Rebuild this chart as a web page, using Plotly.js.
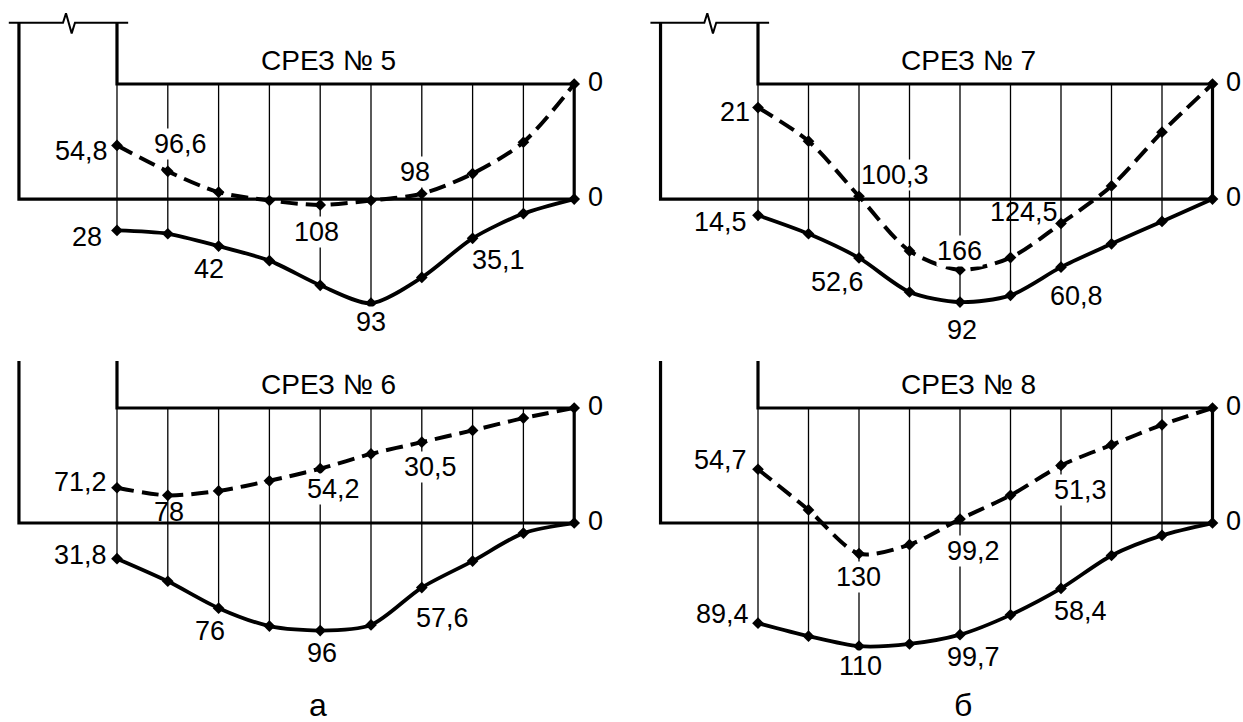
<!DOCTYPE html>
<html><head><meta charset="utf-8">
<script src="https://cdn.plot.ly/plotly-3.0.1.min.js"></script>
<style>html,body{margin:0;padding:0;background:#fff}#chart{width:1243px;height:722px}</style>
</head><body><div id="chart"></div>
<script>
// ---------- data ----------
const stations = [0, 1, 2, 3, 4, 5, 6, 7, 8, 9];
const titles = ['СРЕЗ № 5', 'СРЕЗ № 6', 'СРЕЗ № 7', 'СРЕЗ № 8'];
const subLabels = ['а', 'б'];
const zeroLabel = '0';

const dashed5 = [54.8, 78, 96.6, 104, 108, 104, 98, 80, 52, 0];
const solid5  = [28, 31, 42, 55, 77, 93, 70, 35.1, 13, 0];
const dashed6 = [71.2, 78, 74, 65, 54.2, 41, 30.5, 20, 9, 0];
const solid6  = [31.8, 52, 76, 92, 96, 91, 57.6, 34, 9, 0];
const dashed7 = [21, 51, 100.3, 149, 166, 155, 124.5, 91, 43, 0];
const solid7  = [14.5, 31, 52.6, 83, 92, 86, 60.8, 40, 20, 0];
const dashed8 = [54.7, 91, 130, 122, 99.2, 78, 51.3, 33, 15, 0];
const solid8  = [89.4, 101, 110, 108, 99.7, 82, 58.4, 29, 11, 0];

const dashedLabelIdx5 = [0, 2, 4, 6];
const solidLabelIdx5  = [0, 2, 5, 7];
const dashedLabelIdx6 = [0, 1, 4, 6];
const solidLabelIdx6  = [0, 2, 4, 6];
const dashedLabelIdx7 = [0, 2, 4, 6];
const solidLabelIdx7  = [0, 2, 4, 6];
const dashedLabelIdx8 = [0, 2, 4, 6];
const solidLabelIdx8  = [0, 2, 4, 6];

// ---------- geometry / style (not data) ----------
const GAP = 102.7;          // distance between the two zero lines (value units)
const TOP = 54.7;           // height of the break line above upper zero line
const LEFT = -1.93;         // left wall position (station units)
const BREAK_X  = [-2.13, -1.063, -1.004, -0.892, -0.827, 0.22];
const BREAK_DY = [0, 0, 8.4, -9.5, 0, 0];

// label offsets in px: [dx, dyDown, whiteBackground]
const dashedShift = [
  [[-35, 5.6, 1], [-38.6, -48, 1], [-4, 27, 1], [-7, -22, 1]],
  [[-36, -5.7, 1], [1, 16.6, 0], [13, 20, 1], [9, 25, 1]],
  [[-23.5, 4.5, 1], [36, -21, 1], [-1, -19, 1], [-37.5, -11, 0]],
  [[-37.5, -9, 1], [-1, 23.4, 1], [13.5, 32, 1], [19.5, 24.5, 1]]
];
const solidShift = [
  [[-30, 6.6, 1], [-10, 23, 1], [0, 19, 1], [26, 22, 1]],
  [[-36, -3.6, 1], [-9, 23, 1], [2, 22.5, 1], [21, 30.5, 1]],
  [[-37.5, 7, 1], [-21.5, 24, 1], [2, 28, 1], [15.5, 29, 1]],
  [[-35.5, -9, 1], [1, 20, 1], [13.5, 22, 1], [19.5, 22.6, 1]]
];

const panels = [
  {title: titles[0], d: dashed5, s: solid5, dl: dashedLabelIdx5, sl: solidLabelIdx5, ax: ''},
  {title: titles[1], d: dashed6, s: solid6, dl: dashedLabelIdx6, sl: solidLabelIdx6, ax: '2'},
  {title: titles[2], d: dashed7, s: solid7, dl: dashedLabelIdx7, sl: solidLabelIdx7, ax: '3'},
  {title: titles[3], d: dashed8, s: solid8, dl: dashedLabelIdx8, sl: solidLabelIdx8, ax: '4'}
];

const FONT = 'Liberation Sans, Arial, sans-serif';
const LABEL_SIZE = 27;
const fmt = v => String(v).replace('.', ',');

const traces = [];
const annotations = [];

panels.forEach((p, k) => {
  const xa = 'x' + p.ax, ya = 'y' + p.ax;
  // station verticals
  const vx = [], vy = [];
  stations.slice(0, -1).forEach(i => { vx.push(i, i, null); vy.push(0, -GAP - p.s[i], null); });
  traces.push({x: vx, y: vy, xaxis: xa, yaxis: ya, mode: 'lines',
    line: {color: '#000', width: 1.3}, hoverinfo: 'skip'});
  // break line
  traces.push({x: BREAK_X, y: BREAK_DY.map(d => TOP + d), xaxis: xa, yaxis: ya, mode: 'lines',
    line: {color: '#000', width: 2}, hoverinfo: 'skip'});
  // frame
  const last = stations[stations.length - 1];
  traces.push({x: [LEFT, LEFT, last, last, 0, 0], y: [TOP, -GAP, -GAP, 0, 0, TOP],
    xaxis: xa, yaxis: ya, mode: 'lines', line: {color: '#000', width: 3.2}, hoverinfo: 'skip'});
  // dashed curve
  traces.push({x: stations, y: p.d.map(v => -v), xaxis: xa, yaxis: ya, mode: 'lines+markers',
    line: {color: '#000', width: 4, dash: '17px,8px', shape: 'spline', smoothing: 0.8},
    marker: {symbol: 'diamond', size: 9, color: '#000'}, hoverinfo: 'skip'});
  // solid curve
  traces.push({x: stations, y: p.s.map(v => -GAP - v), xaxis: xa, yaxis: ya, mode: 'lines+markers',
    line: {color: '#000', width: 3.8, shape: 'spline', smoothing: 0.8},
    marker: {symbol: 'diamond', size: 9, color: '#000'}, hoverinfo: 'skip'});

  // labels
  p.dl.forEach((i, j) => {
    const sh = dashedShift[k][j];
    annotations.push({xref: xa, yref: ya, x: i, y: -p.d[i], text: fmt(p.d[i]), showarrow: false,
      xanchor: 'center', yanchor: 'middle', xshift: sh[0], yshift: -sh[1],
      bgcolor: sh[2] ? '#fff' : 'rgba(0,0,0,0)', borderpad: 0,
      font: {family: FONT, size: LABEL_SIZE, color: '#000'}});
  });
  p.sl.forEach((i, j) => {
    const sh = solidShift[k][j];
    annotations.push({xref: xa, yref: ya, x: i, y: -GAP - p.s[i], text: fmt(p.s[i]), showarrow: false,
      xanchor: 'center', yanchor: 'middle', xshift: sh[0], yshift: -sh[1],
      bgcolor: sh[2] ? '#fff' : 'rgba(0,0,0,0)', borderpad: 0,
      font: {family: FONT, size: LABEL_SIZE, color: '#000'}});
  });
  // title
  annotations.push({xref: xa, yref: ya, x: 4.17, y: 0, text: p.title, showarrow: false,
    xanchor: 'center', yanchor: 'middle', yshift: 24, font: {family: FONT, size: 28, color: '#000'}});
  // zero labels
  [0, -GAP].forEach(yv => annotations.push({xref: xa, yref: ya, x: last, y: yv, text: zeroLabel,
    showarrow: false, xanchor: 'center', yanchor: 'middle', xshift: 21, yshift: 2,
    font: {family: FONT, size: LABEL_SIZE, color: '#000'}}));
});

annotations.push({xref: 'paper', yref: 'paper', x: 318 / 1243, y: 1 - 705 / 722, text: subLabels[0],
  showarrow: false, xanchor: 'center', yanchor: 'middle', font: {family: FONT, size: 32, color: '#000'}});
annotations.push({xref: 'paper', yref: 'paper', x: 963 / 1243, y: 1 - 705 / 722, text: subLabels[1],
  showarrow: false, xanchor: 'center', yanchor: 'middle', font: {family: FONT, size: 32, color: '#000'}});

const hid = {visible: false, showgrid: false, zeroline: false, fixedrange: true};
const layout = {
  width: 1243, height: 722, autosize: false,
  margin: {l: 0, r: 0, t: 0, b: 0, pad: 0},
  paper_bgcolor: '#fff', plot_bgcolor: '#fff', showlegend: false,
  xaxis:  Object.assign({}, hid, {domain: [0, 0.5], range: [-2.303, 9.931], anchor: 'y'}),
  yaxis:  Object.assign({}, hid, {domain: [0.5, 1], range: [-247.3, 75.0], anchor: 'x'}),
  xaxis2: Object.assign({}, hid, {domain: [0, 0.5], range: [-2.303, 9.931], anchor: 'y2'}),
  yaxis2: Object.assign({}, hid, {domain: [0, 0.5], range: [-280.36, 41.96], anchor: 'x2'}),
  xaxis3: Object.assign({}, hid, {domain: [0.5, 1], range: [-2.703, 9.604], anchor: 'y3'}),
  yaxis3: Object.assign({}, hid, {domain: [0.5, 1], range: [-247.3, 75.0], anchor: 'x3'}),
  xaxis4: Object.assign({}, hid, {domain: [0.5, 1], range: [-2.703, 9.604], anchor: 'y4'}),
  yaxis4: Object.assign({}, hid, {domain: [0, 0.5], range: [-280.36, 41.96], anchor: 'x4'}),
  annotations: annotations
};

Plotly.newPlot('chart', traces, layout, {staticPlot: true, displayModeBar: false});
</script>
</body></html>
